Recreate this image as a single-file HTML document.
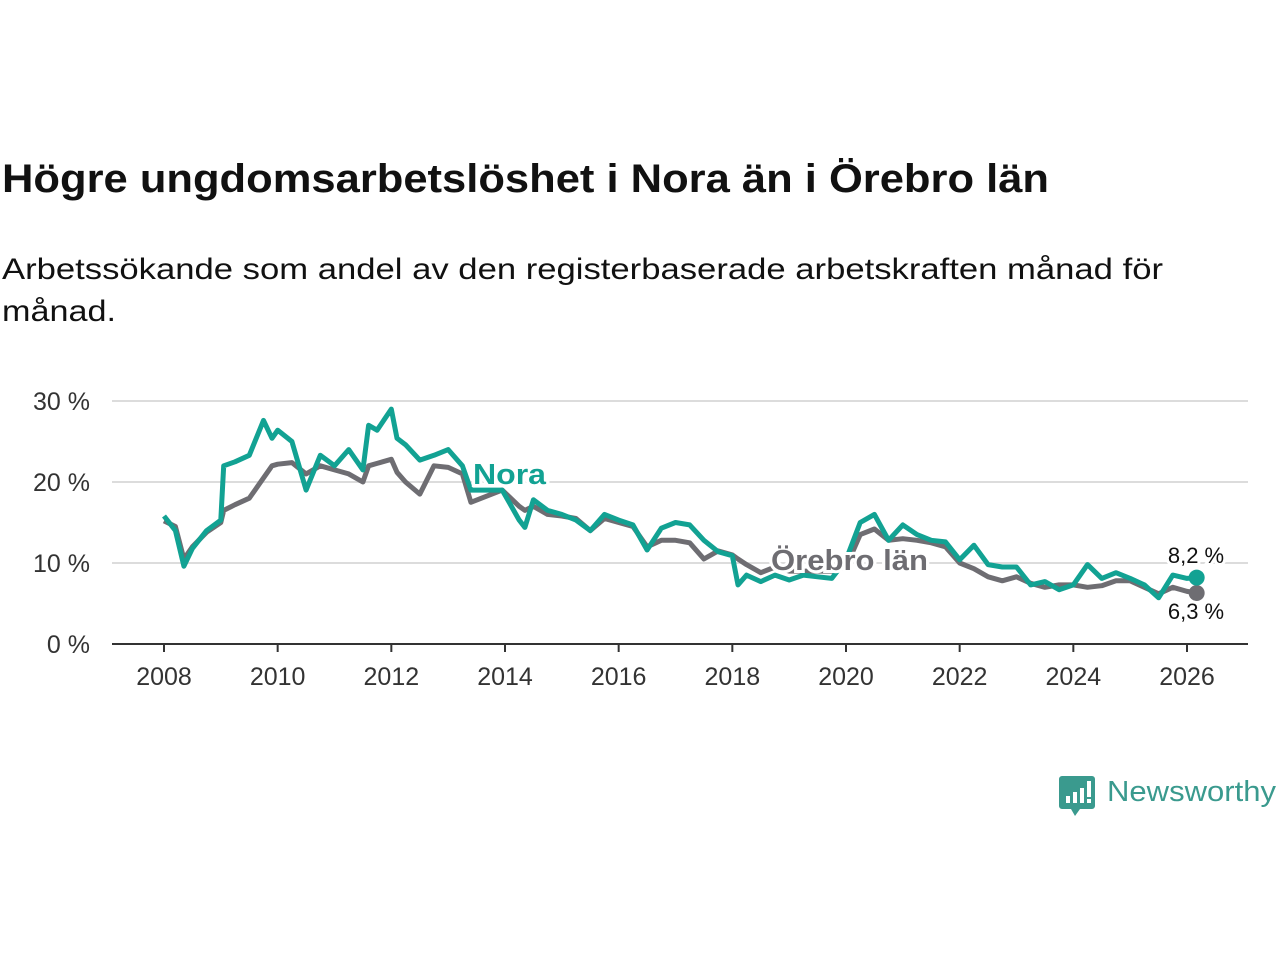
<!DOCTYPE html>
<html><head><meta charset="utf-8"><style>
body{margin:0;background:#fff;width:1280px;height:960px;overflow:hidden}
svg text{font-family:"Liberation Sans",sans-serif}
</style></head><body>
<svg id="chart" width="1280" height="960" xmlns="http://www.w3.org/2000/svg">
<text x="2" y="192" font-size="40" font-weight="bold" fill="#111" textLength="1047" lengthAdjust="spacingAndGlyphs">Högre ungdomsarbetslöshet i Nora än i Örebro län</text>
<text x="2" y="279" font-size="30" fill="#111" textLength="1161" lengthAdjust="spacingAndGlyphs">Arbetssökande som andel av den registerbaserade arbetskraften månad för</text>
<text x="2" y="321" font-size="30" fill="#111" textLength="114" lengthAdjust="spacingAndGlyphs">månad.</text>
<g id="grid"></g>
<g id="series"></g>
<g id="labels"></g>
<g>
<path d="M1062 776 h30 a3 3 0 0 1 3 3 v27 a3 3 0 0 1 -3 3 h-12 l-5 7 l-4 -7 h-9 a3 3 0 0 1 -3 -3 v-27 a3 3 0 0 1 3 -3z" fill="#3a9a8e"/>
<rect x="1066" y="796" width="4" height="7" fill="#fff"/><rect x="1073" y="792" width="4" height="11" fill="#fff"/><rect x="1080" y="788" width="4" height="15" fill="#fff"/><rect x="1087" y="781" width="4" height="16" fill="#fff"/><rect x="1087" y="799" width="4" height="4" fill="#fff"/>
<text x="1107" y="801" font-size="29" fill="#3a9a8e" textLength="169" lengthAdjust="spacingAndGlyphs">Newsworthy</text>
</g>
</svg>
<script>
const years=[2008,2008.2,2008.35,2008.5,2008.75,2009,2009.05,2009.25,2009.5,2009.75,2009.9,2010,2010.25,2010.5,2010.75,2011,2011.25,2011.5,2011.6,2011.75,2012,2012.1,2012.25,2012.5,2012.75,2013,2013.25,2013.4,2013.95,2014.25,2014.35,2014.5,2014.75,2015,2015.25,2015.5,2015.75,2016,2016.25,2016.5,2016.75,2017,2017.25,2017.5,2017.75,2018,2018.1,2018.25,2018.5,2018.75,2019,2019.25,2019.5,2019.75,2020,2020.25,2020.5,2020.75,2021,2021.25,2021.5,2021.75,2022,2022.25,2022.5,2022.75,2023,2023.25,2023.5,2023.75,2024,2024.25,2024.5,2024.75,2025,2025.25,2025.5,2025.75,2026,2026.17];
const nora=[15.8,14,9.6,11.8,14,15.3,22,22.5,23.3,27.6,25.4,26.4,25,19,23.3,22,24,21.5,27,26.4,29,25.4,24.6,22.7,23.3,24,22,19,19,15.3,14.4,17.8,16.5,16,15.3,14,16,15.3,14.7,11.6,14.3,15,14.7,12.8,11.4,10.9,7.3,8.5,7.7,8.5,7.9,8.5,8.3,8.1,10.4,15,16,12.8,14.7,13.5,12.8,12.6,10.4,12.2,9.8,9.5,9.5,7.3,7.7,6.7,7.3,9.8,8.1,8.8,8.1,7.3,5.7,8.5,8.1,8.2];
const orebro=[15.2,14.5,10.5,12,13.8,15,16.5,17.2,18,20.5,22,22.2,22.4,21,22,21.5,21,20,22,22.3,22.8,21.2,20,18.5,22,21.8,21,17.5,19,17,16.5,17,16,15.8,15.5,14,15.5,15,14.5,12,12.8,12.8,12.5,10.5,11.5,11,10.5,9.8,8.8,9.5,9,9,9,9,9.5,13.5,14.2,12.8,13,12.8,12.5,12,10,9.3,8.3,7.8,8.3,7.5,7,7.3,7.3,7,7.2,7.8,7.8,7,6.2,7,6.5,6.3];
const yTicks=[0,10,20,30];
const xTicks=[2008,2010,2012,2014,2016,2018,2020,2022,2024,2026];
const NS="http://www.w3.org/2000/svg";
const X=v=>164+(v-2008)*(1187-164)/18;
const Y=v=>644-v*(644-401)/30;
function mk(t,a,p){const e=document.createElementNS(NS,t);for(const k in a)e.setAttribute(k,a[k]);p.appendChild(e);return e;}
const grid=document.getElementById('grid');
yTicks.forEach(t=>{
 if(t>0){const l=mk('line',{x1:112,x2:1248,y1:Y(t),y2:Y(t),stroke:'#dcdcdc','stroke-width':2},grid);
 
 }
 const tx=mk('text',{x:90,y:Y(t)+9,'text-anchor':'end','font-size':25,fill:'#333'},grid);tx.textContent=t+' %';
 
 
});
const ax=mk('line',{x1:112,x2:1248,y1:644,y2:644,stroke:'#333','stroke-width':2},grid);


xTicks.forEach(t=>{
 const l=mk('line',{x1:X(t),x2:X(t),y1:644,y2:652,stroke:'#333','stroke-width':2},grid);
 
 
 const tx=mk('text',{x:X(t),y:685,'text-anchor':'middle','font-size':25,fill:'#333'},grid);tx.textContent=t;
 
 
});
const s=document.getElementById('series');
function line(vals,col,name){
 const d=vals.map((v,i)=>(i?'L':'M')+X(years[i]).toFixed(1)+' '+Y(v).toFixed(1)).join(' ');
 const p=mk('path',{d:d,fill:'none',stroke:col,'stroke-width':5,'stroke-linejoin':'round'},s);
 
 
 const c=mk('circle',{cx:X(years[years.length-1]),cy:Y(vals[vals.length-1]),r:8,fill:col},s);
 
 
}
line(orebro,'#6e6d72','orebro');
line(nora,'#12a293','nora');
const lb=document.getElementById('labels');
function lab(x,y,txt,col,size,bold,name,anchor,len){
 const a={x:x,y:y,'font-size':size,fill:col,'font-weight':bold?'bold':'normal',stroke:'#fff','stroke-width':6,'paint-order':'stroke','text-anchor':anchor||'start'};
 if(len){a.textLength=len;a.lengthAdjust='spacingAndGlyphs';}
 const t=mk('text',a,lb);
 t.textContent=txt;
 
 
}
lab(473,484,'Nora','#12a293',29,true,'nora-label','start',73);
lab(771,570,'Örebro län','#6e6d72',29,true,'orebro-label','start',157);
lab(1196,563,nora[nora.length-1].toFixed(1).replace('.',',')+' %','#111',22,false,'nora-value-label','middle');
lab(1196,619,orebro[orebro.length-1].toFixed(1).replace('.',',')+' %','#111',22,false,'orebro-value-label','middle');
</script>
</body></html>
